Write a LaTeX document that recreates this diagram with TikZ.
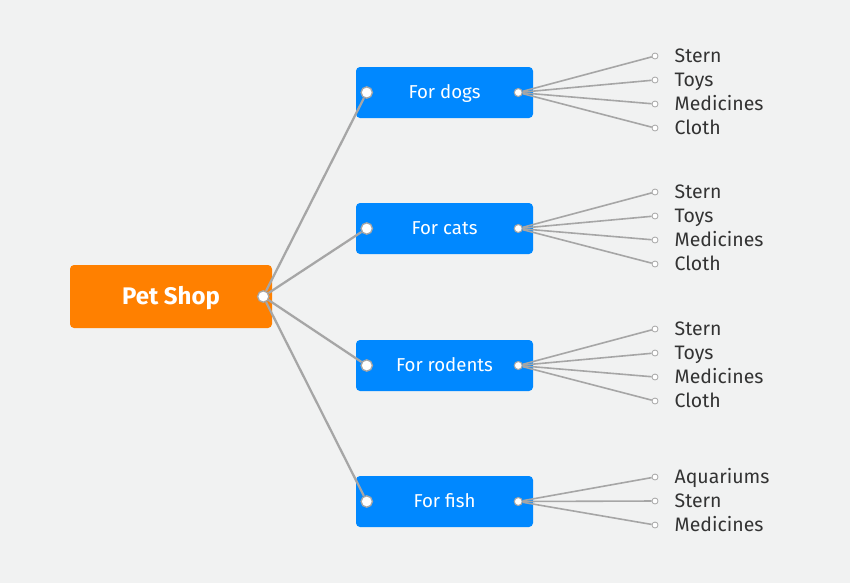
\documentclass[tikz,border=0pt]{standalone}
\usepackage{fontspec}
\setmainfont{Fira Sans}
\usetikzlibrary{positioning}
\definecolor{shopbg}{HTML}{F1F2F2}
\definecolor{shoporange}{HTML}{FF8000}
\definecolor{shopblue}{HTML}{0088FF}
\definecolor{shopline}{HTML}{A6A6A6}
\definecolor{shoptext}{HTML}{333333}

\tikzset{
  RootStyle/.style ={fill=shoporange, rounded corners=3pt, minimum width=151.5pt, minimum height=47.25pt,
    text=white, font=\bfseries\fontsize{18}{20}\selectfont, text height=15.5pt, text depth=3pt},
  BoxStyle/.style ={fill=shopblue, rounded corners=3pt, minimum width=132.75pt, minimum height=38.25pt,
    text=white, font=\fontsize{14}{16}\selectfont, text height=12.7pt, text depth=3pt},
  DotStyle/.style ={circle, fill=white, draw=shopline, line width=1pt, minimum size=8.5pt, inner sep=0},
  SmallDotStyle/.style ={circle, fill=white, draw=shopline, line width=0.8pt, minimum size=6pt, inner sep=0},
  LeafDot/.style ={circle, fill=white, draw=shopline, line width=0.6pt, minimum size=4.5pt, inner sep=0},
  LeafText/.style ={inner sep=0, text=shoptext, font=\fontsize{14.6}{16}\selectfont, text height=13pt, text depth=3pt},
  EdgeStyle/.style ={draw=shopline, line width=1.7pt},
  LeafEdge/.style ={draw=shopline, line width=1.2pt}
}

\begin{document}
\begin{tikzpicture}[x=0.75pt,y=-0.75pt]
\fill[shopbg] (0,0) rectangle (850,583);
\useasboundingbox (0,0) rectangle (850,583);
\node[RootStyle] (shop) at (171,296.5) {Pet Shop};
\node[DotStyle] (shop-dot) at ([xshift=-6.75pt]shop.east) {};
\node[BoxStyle] (dogs) at (444.5,92.5) {For dogs};
\node[BoxStyle] (cats) at (444.5,228.5) {For cats};
\node[BoxStyle] (rodents) at (444.5,365.5) {For rodents};
\node[BoxStyle] (fish) at (444.5,501.5) {For fish};
\foreach \c in {dogs,cats,rodents,fish} {
  \node[DotStyle] (\c-in) at ([xshift=8.25pt]\c.west) {};
  \node[SmallDotStyle] (\c-out) at ([xshift=-11.25pt]\c.east) {};
  \draw[EdgeStyle] (shop-dot) -- (\c-in);
}
% leaves
\foreach \c/\top/\leaves in {dogs/56/{Stern,Toys,Medicines,Cloth},
    cats/192/{Stern,Toys,Medicines,Cloth},
    rodents/329/{Stern,Toys,Medicines,Cloth},
    fish/477/{Aquariums,Stern,Medicines}} {
  \foreach \leaf [count=\i] in \leaves {
    \node[LeafDot] (\c-\i) at (655,{\top+24*(\i-1)}) {};
    \node[LeafText, right=12pt of \c-\i] (\c-\i-text) {\leaf};
    \draw[LeafEdge] (\c-out) -- (\c-\i);
  }
}
\end{tikzpicture}
\end{document}
